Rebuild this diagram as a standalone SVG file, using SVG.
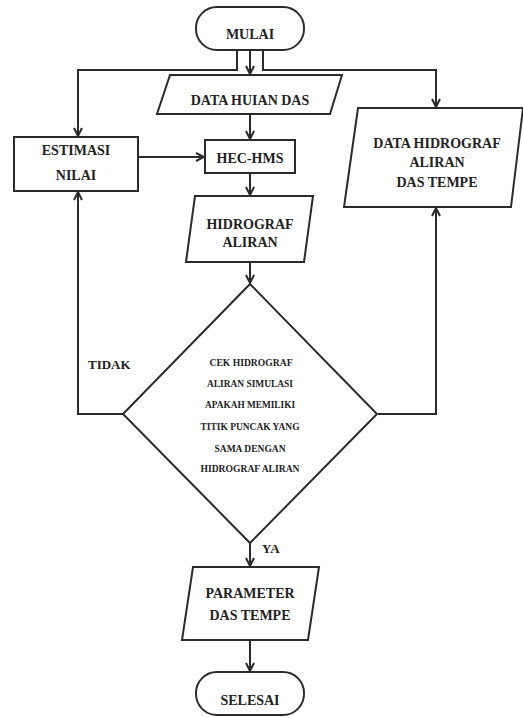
<svg xmlns="http://www.w3.org/2000/svg" width="523" height="717" viewBox="0 0 523 717">
<defs>
<marker id="arr" viewBox="0 0 10 10" refX="9" refY="5" markerWidth="10" markerHeight="10" markerUnits="userSpaceOnUse" orient="auto">
<path d="M1,1 L9,5 L1,9" fill="none" stroke="#2b2b2b" stroke-width="2"/>
</marker>
<style>
.s{fill:#fff;stroke:#2b2b2b;stroke-width:2}
.c{fill:none;stroke:#2b2b2b;stroke-width:2}
text{font-family:'Liberation Serif','DejaVu Serif',serif;font-weight:bold;fill:#222}
.t{text-anchor:middle;font-size:14px}
.d{text-anchor:middle;font-size:11px}
.l{text-anchor:start}
</style>
</defs>
<rect width="523" height="717" fill="#fff"/>
<g id="connectors">
<path class="c" d="M237,50 V70 H78 V136" marker-end="url(#arr)"/>
<path class="c" d="M263,50 V70 H436 V107" marker-end="url(#arr)"/>
<path class="c" d="M250,50 V74" marker-end="url(#arr)"/>
<path class="c" d="M250,114 V139" marker-end="url(#arr)"/>
<path class="c" d="M138,157 H204" marker-end="url(#arr)"/>
<path class="c" d="M250,173 V195" marker-end="url(#arr)"/>
<path class="c" d="M250,262 V283" marker-end="url(#arr)"/>
<path class="c" d="M123,414 H78 V192" marker-end="url(#arr)"/>
<path class="c" d="M378,414 H436 V208" marker-end="url(#arr)"/>
<path class="c" d="M250,543 V566" marker-end="url(#arr)"/>
<path class="c" d="M250,640 V671" marker-end="url(#arr)"/>
</g>
<g id="mulai">
<rect class="s" x="196" y="7" width="108" height="43" rx="21" ry="21"/>
<text class="t" x="250" y="39">MULAI</text>
</g>
<g id="data-huian">
<polygon class="s" points="170,75 342,75 330,114 157,114"/>
<text class="t" x="250" y="105">DATA HUIAN DAS</text>
</g>
<g id="estimasi">
<rect class="s" x="14" y="137" width="124" height="54"/>
<text class="t" x="76" y="155">ESTIMASI</text>
<text class="t" x="76" y="180">NILAI</text>
</g>
<g id="hec-hms">
<rect class="s" x="205" y="140" width="90" height="33"/>
<text class="t" x="250" y="163" font-size="13">HEC-HMS</text>
</g>
<g id="hidrograf">
<polygon class="s" points="195,196 313,196 304,262 186,262"/>
<text class="t" x="250" y="229" font-size="13">HIDROGRAF</text>
<text class="t" x="250" y="247" font-size="13">ALIRAN</text>
</g>
<g id="data-hidrograf">
<polygon class="s" points="358,108 523,108 511,207 344,207"/>
<text class="t" x="437" y="148" font-size="13">DATA HIDROGRAF</text>
<text class="t" x="437" y="167" font-size="13">ALIRAN</text>
<text class="t" x="437" y="187" font-size="13">DAS TEMPE</text>
</g>
<g id="cek">
<polygon class="s" points="250,284 377,414 250,543 123,414"/>
<text class="d" x="251" y="366" textLength="83" lengthAdjust="spacingAndGlyphs">CEK HIDROGRAF</text>
<text class="d" x="250" y="387" textLength="86" lengthAdjust="spacingAndGlyphs">ALIRAN SIMULASI</text>
<text class="d" x="250" y="408" textLength="90" lengthAdjust="spacingAndGlyphs">APAKAH MEMILIKI</text>
<text class="d" x="250" y="430" textLength="99" lengthAdjust="spacingAndGlyphs">TITIK PUNCAK YANG</text>
<text class="d" x="250" y="452" textLength="71" lengthAdjust="spacingAndGlyphs">SAMA DENGAN</text>
<text class="d" x="250" y="472" textLength="99" lengthAdjust="spacingAndGlyphs">HIDROGRAF ALIRAN</text>
</g>
<g id="labels">
<text class="l" x="88" y="369" font-size="13">TIDAK</text>
<text class="l" x="262" y="553" font-size="13">YA</text>
</g>
<g id="parameter">
<polygon class="s" points="193,567 319,567 308,640 182,640"/>
<text class="t" x="250" y="598">PARAMETER</text>
<text class="t" x="250" y="620">DAS TEMPE</text>
</g>
<g id="selesai">
<rect class="s" x="196" y="672" width="108" height="43" rx="21" ry="21"/>
<text class="t" x="250" y="705">SELESAI</text>
</g>
</svg>
